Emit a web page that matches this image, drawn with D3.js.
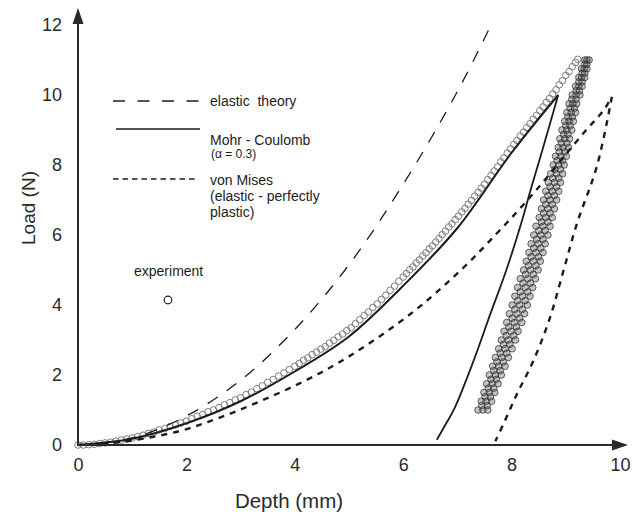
<!DOCTYPE html>
<html>
<head>
<meta charset="utf-8">
<script src="https://cdn.jsdelivr.net/npm/d3@7"></script>
<style>
  html, body { margin: 0; padding: 0; background: #fff; }
  svg { display: block; font-family: "Liberation Sans", Arial, sans-serif; }
</style>
</head>
<body>
<svg id="chart" width="634" height="518"></svg>
<script>
// Axis ticks
const xTicks = [0, 2, 4, 6, 8, 10];
const yTicks = [0, 2, 4, 6, 8, 10, 12];

// Model curves: [depth (mm), load (N)]
const elasticTheory = [
  [0, 0], [1, 0.2], [2, 0.83], [3, 1.85], [4, 3.3], [5, 5.15], [6, 7.45], [7, 10.1], [7.62, 12.0]
];
const mohrCoulombLoading = [
  [0, 0], [1, 0.18], [2, 0.62], [3, 1.25], [4, 2.1], [5, 3.1], [6, 4.55], [7, 6.2], [8, 8.35], [8.86, 10.0]
];
const mohrCoulombUnloading = [
  [8.86, 10.0], [8.52, 8.17], [8.34, 7.23], [8.19, 6.4], [7.91, 5.03], [7.6, 3.71], [7.29, 2.37], [6.95, 1.06], [6.75, 0.5], [6.62, 0.15]
];
const vonMisesLoading = [
  [0, 0], [0.5, 0.04], [1, 0.13], [1.88, 0.4], [2.56, 0.75], [3.36, 1.25], [4.22, 1.86], [5.02, 2.55],
  [6.18, 3.8], [7.1, 5.05], [7.73, 6.05], [8.21, 6.85], [8.71, 7.75], [9.32, 8.9], [9.69, 9.55], [9.85, 9.95]
];
const vonMisesUnloading = [
  [9.85, 9.95], [9.58, 8.0], [9.2, 6.3], [8.95, 4.94], [8.7, 3.6], [8.4, 2.4], [8.1, 1.46], [7.85, 0.6], [7.7, 0.11]
];

// Experiment, loading branch: [depth, load]
const experimentLoading = [
  [0.0, 0.00], [0.1, 0.00], [0.2, 0.01], [0.3, 0.02], [0.4, 0.04], [0.5, 0.06], [0.6, 0.08], [0.7, 0.11], [0.8, 0.14], [0.9, 0.17],
  [1.0, 0.20], [1.1, 0.24], [1.2, 0.28], [1.3, 0.33], [1.4, 0.37], [1.5, 0.43], [1.6, 0.47], [1.7, 0.53], [1.8, 0.57], [1.9, 0.63],
  [2.0, 0.68], [2.1, 0.75], [2.2, 0.82], [2.3, 0.87], [2.4, 0.95], [2.5, 1.00], [2.6, 1.07], [2.7, 1.15], [2.8, 1.21], [2.9, 1.29],
  [3.0, 1.35], [3.1, 1.44], [3.2, 1.51], [3.3, 1.61], [3.4, 1.69], [3.5, 1.79], [3.6, 1.87], [3.7, 1.97], [3.8, 2.06], [3.9, 2.16],
  [4.0, 2.25], [4.08, 2.33], [4.16, 2.42], [4.24, 2.49], [4.32, 2.58], [4.40, 2.65], [4.48, 2.74], [4.56, 2.81], [4.64, 2.91], [4.72, 2.99],
  [4.80, 3.09], [4.88, 3.17], [4.96, 3.27], [5.04, 3.35], [5.12, 3.47], [5.20, 3.58], [5.28, 3.70], [5.36, 3.80], [5.44, 3.93], [5.52, 4.03],
  [5.60, 4.16], [5.68, 4.28], [5.76, 4.42], [5.84, 4.54], [5.92, 4.68], [6.00, 4.80], [6.06, 4.90], [6.12, 5.01], [6.18, 5.09], [6.24, 5.20],
  [6.30, 5.29], [6.36, 5.40], [6.42, 5.49], [6.48, 5.60], [6.54, 5.69], [6.60, 5.80], [6.66, 5.90], [6.72, 6.01], [6.78, 6.11], [6.84, 6.23],
  [6.90, 6.32], [6.96, 6.44], [7.02, 6.54], [7.08, 6.66], [7.14, 6.76], [7.20, 6.88], [7.26, 6.99], [7.32, 7.11], [7.38, 7.22], [7.44, 7.34],
  [7.50, 7.45], [7.56, 7.58], [7.62, 7.70], [7.68, 7.83], [7.74, 7.95], [7.80, 8.09], [7.86, 8.20], [7.92, 8.34], [7.98, 8.46], [8.04, 8.59],
  [8.10, 8.70], [8.16, 8.83], [8.22, 8.94], [8.28, 9.07], [8.34, 9.18], [8.40, 9.31], [8.46, 9.42], [8.52, 9.55], [8.58, 9.66], [8.64, 9.79],
  [8.70, 9.90], [8.76, 10.03], [8.82, 10.15], [8.88, 10.29], [8.94, 10.41], [9.00, 10.56], [9.06, 10.67], [9.12, 10.81], [9.18, 10.93], [9.22, 11.02]
];

// Experiment, repeated unloading/reloading cycles: loads and the depths of each cycle
const cycleLoadsA = [
  1, 1.25, 1.5, 1.75, 2, 2.25, 2.5, 2.75, 3, 3.25, 3.5, 3.75, 4, 4.25, 4.5, 4.75, 5, 5.25, 5.5, 5.75,
  6, 6.25, 6.5, 6.75, 7, 7.25, 7.5, 7.75, 8, 8.25, 8.5, 8.75, 9, 9.25, 9.5, 9.75, 10, 10.25, 10.5, 10.75, 11
];
const cycleLoadsB = [
  1.125, 1.375, 1.625, 1.875, 2.125, 2.375, 2.625, 2.875, 3.125, 3.375, 3.625, 3.875, 4.125, 4.375, 4.625, 4.875, 5.125, 5.375, 5.625, 5.875,
  6.125, 6.375, 6.625, 6.875, 7.125, 7.375, 7.625, 7.875, 8.125, 8.375, 8.625, 8.875, 9.125, 9.375, 9.625, 9.875, 10.125, 10.375, 10.625, 10.875
];
const cycleDepth1 = [
  7.38, 7.44, 7.49, 7.54, 7.59, 7.65, 7.70, 7.76, 7.81, 7.86, 7.91, 7.96, 8.01, 8.06, 8.11, 8.16, 8.22, 8.27, 8.32, 8.36,
  8.41, 8.45, 8.51, 8.55, 8.59, 8.63, 8.68, 8.72, 8.77, 8.81, 8.86, 8.89, 8.93, 8.98, 9.02, 9.06, 9.12, 9.18, 9.24, 9.29, 9.35
];
const cycleDepth2 = [
  7.45, 7.51, 7.57, 7.62, 7.67, 7.73, 7.79, 7.85, 7.90, 7.95, 8.01, 8.06, 8.11, 8.16, 8.21, 8.26, 8.31, 8.36, 8.41, 8.46,
  8.50, 8.55, 8.59, 8.63, 8.67, 8.71, 8.76, 8.80, 8.84, 8.88, 8.92, 8.96, 9.00, 9.04, 9.08, 9.11, 9.19, 9.24, 9.30, 9.35
];
const cycleDepth3 = [
  7.47, 7.53, 7.59, 7.64, 7.70, 7.76, 7.82, 7.88, 7.94, 7.99, 8.05, 8.10, 8.15, 8.20, 8.25, 8.30, 8.35, 8.40, 8.45, 8.49,
  8.54, 8.58, 8.63, 8.67, 8.71, 8.75, 8.79, 8.83, 8.87, 8.91, 8.95, 8.98, 9.02, 9.06, 9.10, 9.13, 9.19, 9.24, 9.29, 9.34, 9.39
];
const cycleDepth4 = [
  7.55, 7.61, 7.67, 7.72, 7.79, 7.85, 7.91, 7.97, 8.04, 8.09, 8.15, 8.20, 8.25, 8.30, 8.35, 8.40, 8.45, 8.50, 8.54, 8.58,
  8.62, 8.67, 8.71, 8.75, 8.79, 8.83, 8.87, 8.90, 8.94, 8.98, 9.02, 9.04, 9.08, 9.12, 9.16, 9.19, 9.25, 9.30, 9.35, 9.39
];
const cycleDepth5 = [
  7.56, 7.63, 7.69, 7.75, 7.81, 7.88, 7.94, 8.01, 8.07, 8.12, 8.19, 8.24, 8.29, 8.34, 8.39, 8.44, 8.49, 8.53, 8.58, 8.62,
  8.67, 8.71, 8.75, 8.79, 8.83, 8.87, 8.90, 8.94, 8.97, 9.01, 9.05, 9.07, 9.11, 9.14, 9.18, 9.20, 9.26, 9.30, 9.35, 9.39, 9.43
];

// ---- drawing ----
const svg = d3.select("#chart");
const x = d3.scaleLinear().domain([0, 10]).range([78, 620]);
const y = d3.scaleLinear().domain([0, 12]).range([445, 25]);
const ink = "#1c1c1c";

// experiment markers
const cycles = [
  [cycleDepth1, cycleLoadsA], [cycleDepth2, cycleLoadsB], [cycleDepth3, cycleLoadsA],
  [cycleDepth4, cycleLoadsB], [cycleDepth5, cycleLoadsA]
];
const cyclePoints = cycles.flatMap(([ds, ls]) => ds.map((d, i) => [d, ls[i]]));

svg.append("g")
  .selectAll("circle")
  .data(experimentLoading)
  .join("circle")
  .attr("cx", d => x(d[0]))
  .attr("cy", d => y(d[1]))
  .attr("r", 3.3)
  .attr("fill", "none")
  .attr("stroke", "#7d7d7d")
  .attr("stroke-width", 1);

svg.append("g")
  .selectAll("circle")
  .data(cyclePoints)
  .join("circle")
  .attr("cx", d => x(d[0]))
  .attr("cy", d => y(d[1]))
  .attr("r", 3.3)
  .attr("fill", "#4a4a4a")
  .attr("fill-opacity", 0.32)
  .attr("stroke", "#333")
  .attr("stroke-opacity", 0.75)
  .attr("stroke-width", 1);

// model curves
const line = d3.line()
  .x(d => x(d[0]))
  .y(d => y(d[1]))
  .curve(d3.curveCatmullRom.alpha(0.5));

const curves = svg.append("g").attr("fill", "none").attr("stroke", ink);
curves.append("path").datum(elasticTheory)
  .attr("d", line).attr("stroke-width", 1.3).attr("stroke-dasharray", "12,11");
curves.append("path").datum(mohrCoulombLoading)
  .attr("d", line).attr("stroke-width", 2);
curves.append("path").datum(mohrCoulombUnloading)
  .attr("d", line).attr("stroke-width", 1.8);
curves.append("path").datum(vonMisesLoading)
  .attr("d", line).attr("stroke-width", 2.4).attr("stroke-dasharray", "6,6");
curves.append("path").datum(vonMisesUnloading)
  .attr("d", line).attr("stroke-width", 2.4).attr("stroke-dasharray", "6,6");

// axes
const axisColor = "#2a2a2a";
const xAxis = svg.append("g")
  .attr("transform", `translate(0,${y(0)})`)
  .call(d3.axisBottom(x).tickValues(xTicks).tickSize(0).tickPadding(13).tickFormat(d3.format("d")));
const yAxis = svg.append("g")
  .attr("transform", `translate(${x(0)},0)`)
  .call(d3.axisLeft(y).tickValues(yTicks).tickSize(0).tickPadding(16).tickFormat(d3.format("d")));
[xAxis, yAxis].forEach(g => {
  g.select(".domain").remove();
  g.selectAll("text")
    .attr("fill", axisColor)
    .style("font-size", "18px")
    .style("font-family", "'Liberation Sans', Arial, sans-serif");
});

const axes = svg.append("g");
axes.append("line")
  .attr("x1", x(0)).attr("y1", y(0)).attr("x2", 614).attr("y2", y(0))
  .attr("stroke", axisColor).attr("stroke-width", 2);
axes.append("path")
  .attr("d", `M628,${y(0)} L612,${y(0) - 5.5} L612,${y(0) + 5.5} Z`)
  .attr("fill", axisColor);
axes.append("line")
  .attr("x1", x(0)).attr("y1", y(0) + 1).attr("x2", x(0)).attr("y2", 22)
  .attr("stroke", axisColor).attr("stroke-width", 2);
axes.append("path")
  .attr("d", `M${x(0)},8 L${x(0) - 5.5},24 L${x(0) + 5.5},24 Z`)
  .attr("fill", axisColor);

// axis titles
svg.append("text")
  .attr("x", 289).attr("y", 508)
  .attr("text-anchor", "middle")
  .attr("fill", axisColor)
  .style("font-size", "20.5px")
  .text("Depth (mm)");
svg.append("text")
  .attr("transform", "translate(35,208) rotate(-90)")
  .attr("text-anchor", "middle")
  .attr("fill", axisColor)
  .style("font-size", "19px")
  .text("Load (N)");

// legend
const legend = svg.append("g").attr("fill", ink).style("font-size", "14px");
legend.append("line")
  .attr("x1", 113).attr("x2", 199).attr("y1", 101).attr("y2", 101)
  .attr("stroke", ink).attr("stroke-width", 1.3).attr("stroke-dasharray", "12,12.5");
legend.append("text").attr("x", 210).attr("y", 106)
  .style("white-space", "pre").text("elastic  theory");

legend.append("line")
  .attr("x1", 116).attr("x2", 200).attr("y1", 129).attr("y2", 129)
  .attr("stroke", ink).attr("stroke-width", 1.5);
legend.append("text").attr("x", 210).attr("y", 145).text("Mohr - Coulomb");
legend.append("text").attr("x", 211).attr("y", 158)
  .style("font-size", "12px").text("(\u03B1 = 0.3)");

legend.append("line")
  .attr("x1", 113).attr("x2", 198).attr("y1", 179).attr("y2", 179)
  .attr("stroke", ink).attr("stroke-width", 1.5).attr("stroke-dasharray", "5.5,4");
legend.append("text").attr("x", 210).attr("y", 185).text("von Mises");
legend.append("text").attr("x", 210).attr("y", 201).text("(elastic - perfectly");
legend.append("text").attr("x", 210).attr("y", 217).text("plastic)");

legend.append("text").attr("x", 134).attr("y", 276).text("experiment");
legend.append("circle")
  .attr("cx", 168).attr("cy", 300).attr("r", 3.8)
  .attr("fill", "none").attr("stroke", ink).attr("stroke-width", 1.2);
</script>
</body>
</html>
